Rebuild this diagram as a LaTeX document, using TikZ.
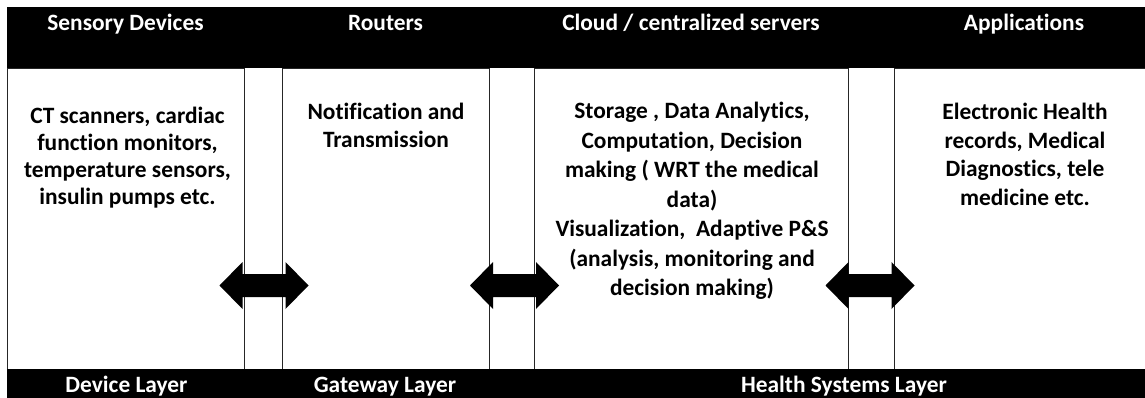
\documentclass[tikz,border=0pt]{standalone}
\usepackage{fontspec}
\setmainfont[Ligatures={NoCommon}]{Carlito}
\begin{document}
\begin{tikzpicture}[x=1pt,y=1pt,
  col/.style={draw=black!85, line width=0.9pt, fill=white, rectangle, inner sep=0pt, anchor=north west},
  bar/.style={fill=black, rectangle, inner sep=0pt, anchor=north west},
  headtxt/.style={text=white, font=\fontsize{23.4}{27}\selectfont\bfseries, anchor=base, inner sep=0pt},
  body/.style={font=\fontsize{23.4}{26.8}\selectfont\bfseries, align=center, anchor=north, inner sep=0pt},
  bodyw/.style={font=\fontsize{23.4}{28.6}\selectfont\bfseries, align=center, anchor=north, inner sep=0pt},
  bodyx/.style={font=\fontsize{23.4}{29.5}\selectfont\bfseries, align=center, anchor=north, inner sep=0pt},
  pics/dblarrow/.style={code={
    \fill[black] (-44.5,0) -- (-21.5,23.5) -- (-21.5,11.5) -- (21.5,11.5) -- (21.5,23.5)
      -- (44.5,0) -- (21.5,-23.5) -- (21.5,-11.5) -- (-21.5,-11.5) -- (-21.5,-23.5) -- cycle;}}]
\useasboundingbox (0,0) rectangle (1145,-398);
\clip (0,0) rectangle (1145,-398);
% columns
\node[col, minimum width=237pt, minimum height=301pt] (c1) at (7,-68) {};
\node[col, minimum width=207pt, minimum height=301pt] (c2) at (282,-68) {};
\node[col, minimum width=314pt, minimum height=301pt] (c3) at (534,-68) {};
\node[col, minimum width=260pt, minimum height=301pt] (c4) at (894,-68) {};
% bars
\node[bar, minimum width=1150pt, minimum height=61pt] (top) at (7,-7) {};
\node[bar, minimum width=1150pt, minimum height=35pt] (bottom) at (7,-369) {};
% headers
\node[headtxt] (h1) at (125.5,-31) {Sensory Devices};
\node[headtxt] (h2) at (385.5,-31) {Routers};
\node[headtxt] (h3) at (691,-31) {Cloud / centralized servers};
\node[headtxt] (h4) at (1024,-31) {Applications};
% layer labels
\node[headtxt] (l1) at (126.5,-392) {Device Layer};
\node[headtxt] (l2) at (385,-392) {Gateway Layer};
\node[headtxt] (l3) at (844,-392) {Health Systems Layer};
% body texts
\node[body] (t1) at (127.5,-107) {CT scanners, cardiac\\function monitors,\\temperature sensors,\\insulin pumps etc.};
\node[bodyw] (t2) at (386,-102.5) {Notification and\\Transmission};
\node[bodyx] (t3) at (692,-102) {Storage , Data Analytics,\\Computation, Decision\\making ( WRT the medical\\data)\\Visualization,\ \ Adaptive P\&S\\(analysis, monitoring and\\decision making)};
\node[bodyw] (t4) at (1025,-103) {Electronic Health\\records, Medical\\Diagnostics, tele\\medicine etc.};
% arrows between the columns
\coordinate (a1) at (264,-285.5);
\coordinate (a2) at (514.5,-285.5);
\coordinate (a3) at (870,-285.5);
\pic at (a1) {dblarrow};
\pic at (a2) {dblarrow};
\pic at (a3) {dblarrow};
\end{tikzpicture}
\end{document}
